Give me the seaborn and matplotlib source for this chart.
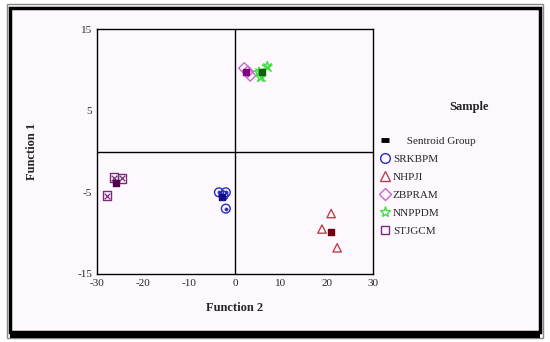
import numpy as np
import pandas as pd
import matplotlib.pyplot as plt
import seaborn as sns
from matplotlib.lines import Line2D
from matplotlib.patches import Rectangle

# ---------------------------------------------------------------
# Data (Function 2 = x, Function 1 = y)
groups = ["SRKBPM", "NHPJI", "ZBPRAM", "NNPPDM", "STJGCM"]

srkbpm_x = [-3.5, -2.0, -2.5, -2.0]
srkbpm_y = [-5.0, -5.0, -5.4, -7.0]
nhpji_x = [20.9, 18.9, 22.2]
nhpji_y = [-7.6, -9.5, -11.8]
zbpram_x = [2.0, 3.3, 2.8]
zbpram_y = [10.2, 9.3, 9.8]
nnppdm_x = [7.0, 5.6, 5.2]
nnppdm_y = [10.4, 9.1, 9.7]
stjgcm_x = [-26.3, -24.6, -27.8]
stjgcm_y = [-3.2, -3.3, -5.4]

centroid_x = [-2.8, 20.9, 2.4, 5.9, -25.9]
centroid_y = [-5.6, -9.9, 9.8, 9.7, -3.9]

xticks = [-30, -20, -10, 0, 10, 20, 30]
yticks = [-15, -5, 5, 15]

# ---------------------------------------------------------------
sns.set_style("white")
plt.rcParams['font.family'] = ['Liberation Serif', 'DejaVu Serif']
plt.rcParams['axes.unicode_minus'] = False

df = pd.concat([
    pd.DataFrame({"x": srkbpm_x, "y": srkbpm_y, "Sample": "SRKBPM"}),
    pd.DataFrame({"x": nhpji_x, "y": nhpji_y, "Sample": "NHPJI"}),
    pd.DataFrame({"x": zbpram_x, "y": zbpram_y, "Sample": "ZBPRAM"}),
    pd.DataFrame({"x": nnppdm_x, "y": nnppdm_y, "Sample": "NNPPDM"}),
    pd.DataFrame({"x": stjgcm_x, "y": stjgcm_y, "Sample": "STJGCM"}),
], ignore_index=True)
cent = pd.DataFrame({"x": centroid_x, "y": centroid_y, "Sample": groups})

colors = {"SRKBPM": "#2a2ac0", "NHPJI": "#c0404a", "ZBPRAM": "#cc66cc",
          "NNPPDM": "#44dd44", "STJGCM": "#7a2a7a"}
dark = {"SRKBPM": "#10108a", "NHPJI": "#700010", "ZBPRAM": "#800080",
        "NNPPDM": "#106010", "STJGCM": "#500050"}
outer = {"SRKBPM": "o", "NHPJI": "^", "ZBPRAM": "D", "NNPPDM": "*", "STJGCM": "s"}
sizes = {"SRKBPM": 40, "NHPJI": 36, "ZBPRAM": 32, "NNPPDM": 55, "STJGCM": 36}

fig = plt.figure(figsize=(5.5, 3.42), dpi=100)
fig.patch.set_facecolor("white")

# picture frame
fig.patches.append(Rectangle((0.012, 0.012), 0.976, 0.975, transform=fig.transFigure,
                             facecolor="#fdf8fd", edgecolor="#888888", lw=1, zorder=-3))
fig.patches.append(Rectangle((0.019, 0.03), 0.963, 0.946, transform=fig.transFigure,
                             facecolor="none", edgecolor="black", lw=2.5, zorder=-2))
fig.patches.append(Rectangle((0.019, 0.012), 0.963, 0.012, transform=fig.transFigure,
                             facecolor="black", edgecolor="none", zorder=-2))

ax = fig.add_axes([0.1764, 0.199, 0.5018, 0.716])
ax.set_facecolor("#fdf8fd")

for g in groups:
    sub = df[df["Sample"] == g]
    sns.scatterplot(data=sub, x="x", y="y", ax=ax, marker=outer[g], s=sizes[g],
                    facecolors="none", edgecolor=colors[g], linewidth=1.0, zorder=3)
    if g == "SRKBPM":
        sns.scatterplot(data=sub, x="x", y="y", ax=ax, marker="o", s=6,
                        color=colors[g], edgecolor=colors[g], zorder=3)
    if g == "STJGCM":
        sns.scatterplot(data=sub, x="x", y="y", ax=ax, marker="x", s=16,
                        color=colors[g], linewidth=0.9, zorder=3)
    if g == "NNPPDM":
        sns.scatterplot(data=sub, x="x", y="y", ax=ax, marker="x", s=36,
                        color=colors[g], linewidth=1.0, zorder=3)

for i, g in enumerate(groups):
    ax.scatter(cent["x"][i], cent["y"][i], marker="s", s=16, color=dark[g], zorder=4)

ax.axvline(0, color="black", lw=1, zorder=1)
ax.axhline(0, color="black", lw=1, zorder=1)

ax.set_xlim(-30, 30)
ax.set_ylim(-15, 15)
ax.set_xticks(xticks)
ax.set_yticks(yticks)
ax.tick_params(direction="inout", length=3, width=1.5, labelsize=8, pad=2)
for s in ax.spines.values():
    s.set_color("black")
    s.set_linewidth(1)
ax.set_xlabel("Function 2", fontsize=9, fontweight="bold", labelpad=10)
ax.set_ylabel("Function 1", fontsize=9, fontweight="bold", labelpad=28)

# legend
handles = [
    Line2D([], [], ls="none", marker="_", color="black", markersize=6, markeredgewidth=3.5),
    Line2D([], [], ls="none", marker="o", mfc="none", mec=colors["SRKBPM"], markersize=7),
    Line2D([], [], ls="none", marker="^", mfc="none", mec=colors["NHPJI"], markersize=7),
    Line2D([], [], ls="none", marker="D", mfc="none", mec=colors["ZBPRAM"], markersize=6),
    Line2D([], [], ls="none", marker="*", mfc="none", mec=colors["NNPPDM"], markersize=8),
    Line2D([], [], ls="none", marker="s", mfc="none", mec=colors["STJGCM"], markersize=6),
]
labels = ["     Sentroid Group"] + groups
fig.legend(handles, labels, loc="upper left", bbox_to_anchor=(0.672, 0.632),
           frameon=False, fontsize=8, handlelength=1.0, handletextpad=0.2,
           labelspacing=0.75)
fig.text(0.852, 0.687, "Sample", fontsize=9, fontweight="bold", ha="center", va="center")

fig.savefig("out.png", dpi=100)
